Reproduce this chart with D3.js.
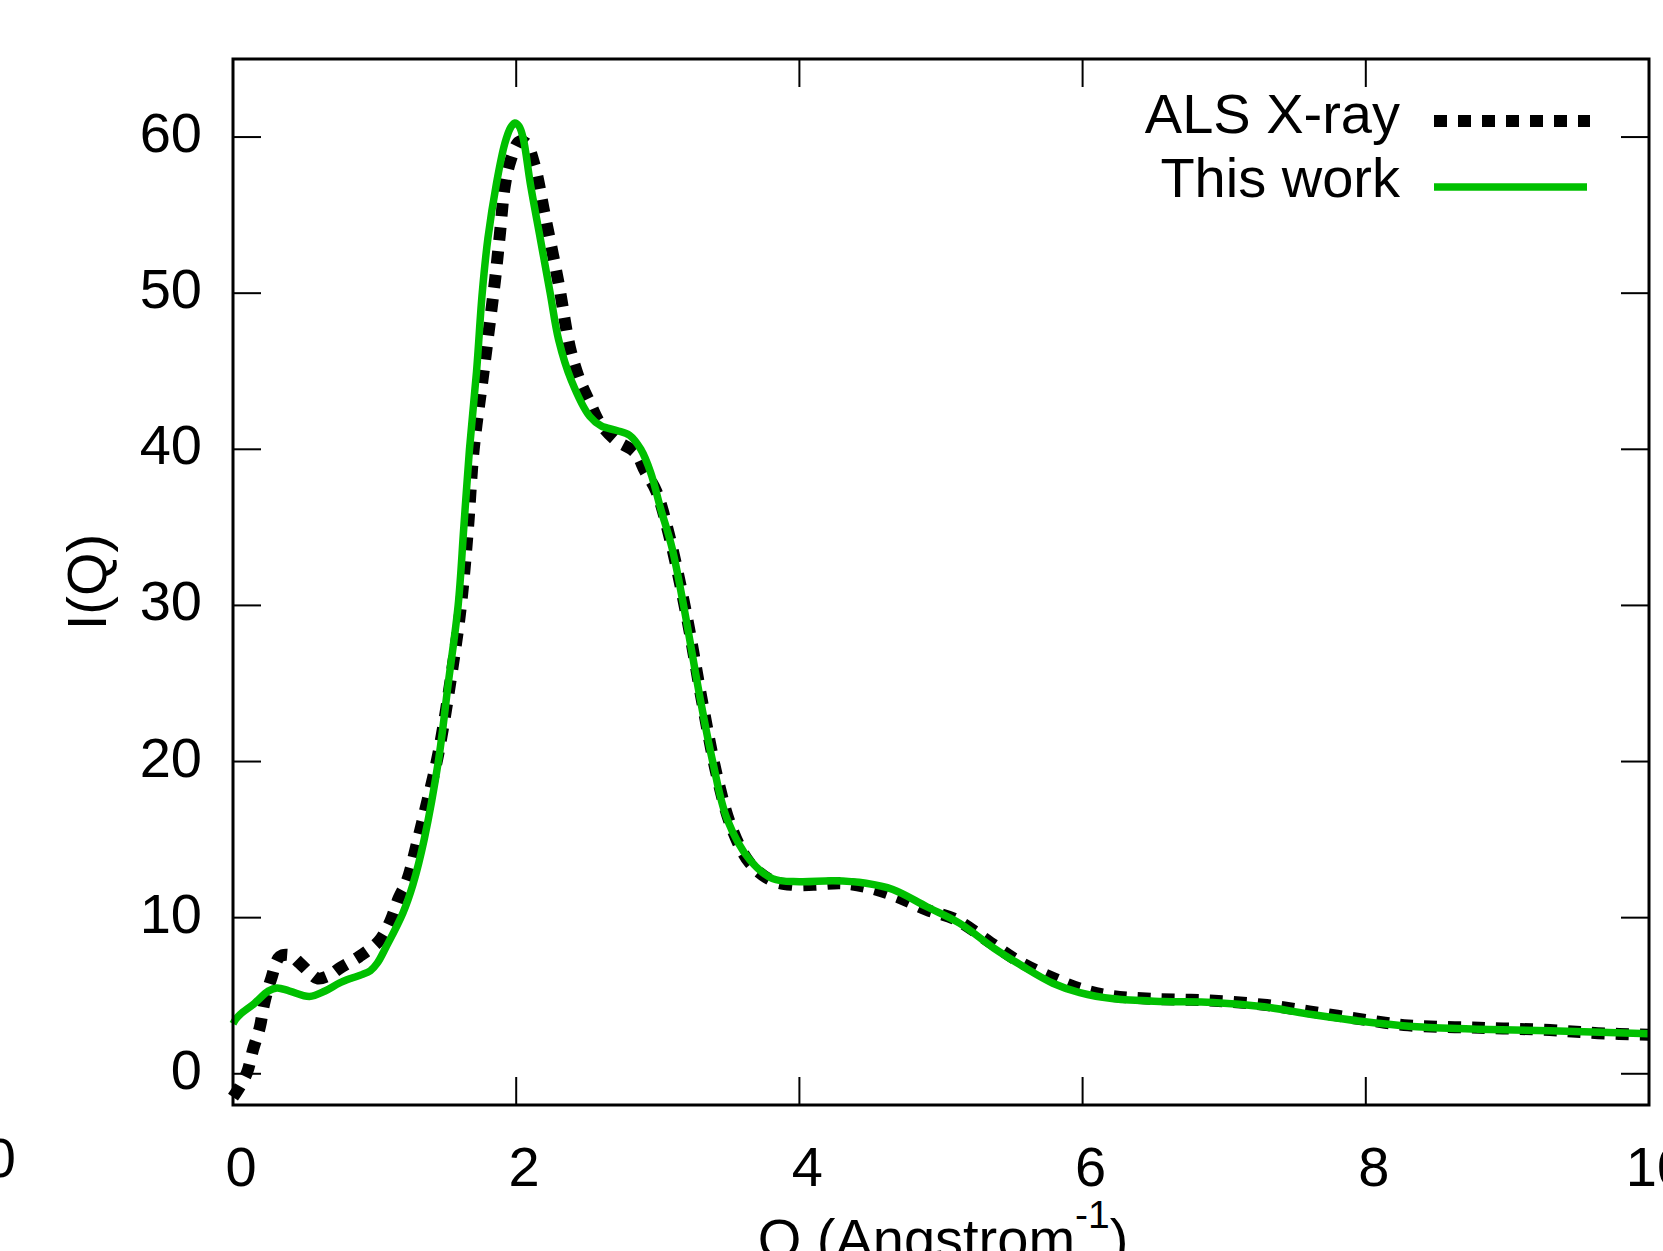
<!DOCTYPE html>
<html>
<head>
<meta charset="utf-8">
<script src="https://cdn.jsdelivr.net/npm/d3@7"></script>
<style>
  html, body { margin: 0; padding: 0; background: #fff; }
  svg { display: block; }
  text { font-family: "Liberation Sans", Arial, Helvetica, sans-serif; fill: #000; }
</style>
</head>
<body>
<svg id="chart" width="1663" height="1251"></svg>
<script>
// ---- Data ----
const seriesNames = ["ALS X-ray", "This work"];

const alsQ = [0.00, 0.05, 0.10, 0.14, 0.19, 0.22, 0.27, 0.33, 0.40, 0.47, 0.55, 0.60, 0.68, 0.76, 0.89, 1.03, 1.11, 1.17, 1.23, 1.30, 1.36, 1.45, 1.55, 1.61, 1.66, 1.70, 1.77, 1.85, 1.885, 1.92, 1.96, 2.02, 2.07, 2.13, 2.20, 2.30, 2.38, 2.45, 2.52, 2.59, 2.70, 2.84, 2.91, 2.99, 3.08, 3.20, 3.32, 3.42, 3.52, 3.65, 3.80, 3.95, 4.10, 4.30, 4.50, 4.70, 4.90, 5.10, 5.35, 5.55, 5.80, 6.00, 6.20, 6.50, 6.90, 7.30, 7.60, 8.00, 8.30, 8.80, 9.30, 9.64, 10.00];
const alsI = [-1.5, -0.8, 0.1, 1.5, 3.0, 4.5, 6.1, 7.5, 7.6, 7.1, 6.4, 6.1, 6.3, 6.8, 7.5, 8.5, 9.75, 11.25, 12.4, 14.8, 17.0, 20.5, 26.0, 30.0, 35.0, 40.0, 45.0, 50.8, 53.8, 56.9, 58.5, 59.7, 59.6, 58.2, 55.1, 50.6, 46.5, 44.4, 43.0, 41.7, 40.6, 39.8, 38.6, 37.3, 34.5, 29.5, 23.5, 19.0, 15.8, 13.5, 12.4, 12.1, 12.1, 12.2, 11.9, 11.3, 10.5, 9.9, 8.4, 7.2, 6.1, 5.4, 5.0, 4.8, 4.7, 4.4, 4.0, 3.45, 3.1, 2.95, 2.8, 2.6, 2.5];

const workQ = [0.00, 0.02, 0.05, 0.15, 0.25, 0.31, 0.40, 0.54, 0.65, 0.75, 0.83, 0.91, 0.97, 1.02, 1.08, 1.20, 1.27, 1.35, 1.45, 1.52, 1.59, 1.63, 1.67, 1.72, 1.76, 1.80, 1.86, 1.92, 1.96, 1.99, 2.02, 2.05, 2.10, 2.17, 2.24, 2.30, 2.39, 2.52, 2.60, 2.71, 2.80, 2.88, 2.95, 3.02, 3.10, 3.18, 3.30, 3.39, 3.49, 3.65, 3.81, 4.00, 4.24, 4.47, 4.66, 4.90, 5.13, 5.37, 5.56, 5.79, 5.98, 6.22, 6.57, 6.92, 7.28, 7.63, 7.98, 8.33, 8.78, 9.30, 10.00];
const workI = [3.2, 3.5, 3.8, 4.5, 5.3, 5.5, 5.3, 4.95, 5.3, 5.8, 6.1, 6.35, 6.6, 7.1, 8.1, 10.3, 12.1, 15.0, 20.0, 25.0, 30.0, 35.0, 40.0, 45.0, 50.0, 53.5, 57.0, 59.6, 60.6, 60.9, 60.7, 59.9, 57.0, 53.5, 50.0, 47.0, 44.4, 42.1, 41.5, 41.2, 40.9, 40.0, 38.5, 36.2, 33.7, 30.1, 24.0, 19.9, 16.3, 13.7, 12.5, 12.3, 12.36, 12.2, 11.8, 10.7, 9.65, 8.07, 6.98, 5.8, 5.2, 4.8, 4.63, 4.57, 4.29, 3.78, 3.35, 3.03, 2.86, 2.75, 2.56];

const xTicks = [0, 2, 4, 6, 8, 10];
const yTicks = [0, 10, 20, 30, 40, 50, 60];

// ---- Layout ----
const svg = d3.select("#chart");
const L = 233, R = 1649, T = 59, B = 1105;
const x = d3.scaleLinear().domain([0, 10]).range([L, R]);
const y = d3.scaleLinear().domain([-2, 65]).range([B, T]);
const FS = 56;

const toPts = (qs, is) => qs.map((q, i) => [q, is[i]]);
const line = d3.line().x(d => x(d[0])).y(d => y(d[1])).curve(d3.curveCatmullRom.alpha(0.5));

// Curves
svg.append("path").datum(toPts(alsQ, alsI))
  .attr("d", line).attr("fill", "none").attr("stroke", "#000")
  .attr("stroke-width", 12).attr("stroke-dasharray", "13,11").attr("stroke-linecap", "butt");
svg.append("path").datum(toPts(workQ, workI))
  .attr("d", line).attr("fill", "none").attr("stroke", "#00c000")
  .attr("stroke-width", 7.5).attr("stroke-linejoin", "round");

// Ticks (inward, mirrored)
const TL = 28;
const tg = svg.append("g").attr("stroke", "#000").attr("stroke-width", 2);
xTicks.forEach(v => {
  tg.append("line").attr("x1", x(v)).attr("x2", x(v)).attr("y1", B).attr("y2", B - TL);
  tg.append("line").attr("x1", x(v)).attr("x2", x(v)).attr("y1", T).attr("y2", T + TL);
});
yTicks.forEach(v => {
  tg.append("line").attr("x1", L).attr("x2", L + TL).attr("y1", y(v)).attr("y2", y(v));
  tg.append("line").attr("x1", R).attr("x2", R - TL).attr("y1", y(v)).attr("y2", y(v));
});

// Frame
svg.append("rect").attr("x", L).attr("y", T).attr("width", R - L).attr("height", B - T)
  .attr("fill", "none").attr("stroke", "#000").attr("stroke-width", 3);

// Tick labels
svg.append("g").selectAll("text").data(xTicks).join("text")
  .attr("x", d => x(d) + 8).attr("y", 1186)
  .attr("text-anchor", "middle").attr("font-size", FS).text(d => d);
svg.append("g").selectAll("text").data(yTicks).join("text")
  .attr("x", 202).attr("y", d => y(d) + 15)
  .attr("text-anchor", "end").attr("font-size", FS).text(d => d);

// Stray label at far left (cut off in the reference)
svg.append("text").attr("x", 16).attr("y", 1177).attr("text-anchor", "end")
  .attr("font-size", FS).text("0");

// Axis titles
const xl = svg.append("text").attr("x", (L + R) / 2 + 2).attr("y", 1258)
  .attr("text-anchor", "middle").attr("font-size", FS);
xl.append("tspan").text("Q (Angstrom");
xl.append("tspan").attr("font-size", 39).attr("dy", -30).text("-1");
xl.append("tspan").attr("dy", 30).text(")");

svg.append("text").attr("transform", `translate(106, ${(T + B) / 2}) rotate(-90)`)
  .attr("text-anchor", "middle").attr("font-size", FS).text("I(Q)");

// Legend
const lg = svg.append("g");
lg.append("text").attr("x", 1400).attr("y", 133).attr("text-anchor", "end")
  .attr("font-size", FS).text(seriesNames[0]);
lg.append("line").attr("x1", 1434).attr("x2", 1590).attr("y1", 121).attr("y2", 121)
  .attr("stroke", "#000").attr("stroke-width", 12).attr("stroke-dasharray", "13,11");
lg.append("text").attr("x", 1400).attr("y", 197).attr("text-anchor", "end")
  .attr("font-size", FS).text(seriesNames[1]);
lg.append("line").attr("x1", 1434).attr("x2", 1587).attr("y1", 187).attr("y2", 187)
  .attr("stroke", "#00c000").attr("stroke-width", 7.5);
</script>
</body>
</html>
